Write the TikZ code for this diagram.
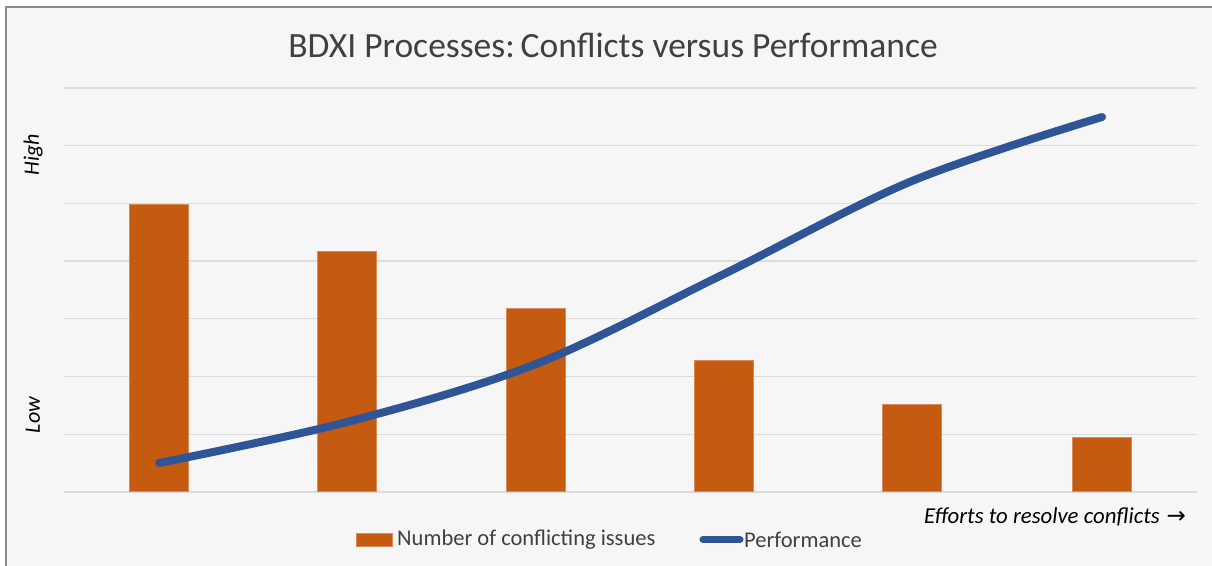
\documentclass[tikz,border=0pt]{standalone}
\usepackage{fontspec}
\setmainfont{Carlito}
\newfontfamily\symfont{DejaVu Sans}
\definecolor{bgc}{HTML}{F6F6F6}
\definecolor{framec}{HTML}{8C8C8C}
\definecolor{gridc}{HTML}{DCDCDC}
\definecolor{barc}{HTML}{C55A11}
\definecolor{linec}{HTML}{2F5597}
\definecolor{txtc}{HTML}{404040}
\tikzset{
  gridline/.style={draw=gridc, line width=1.3pt},
  barbox/.style={fill=barc, draw=barc!70!white, line width=0.5pt},
  perfline/.style={draw=linec, line width=8pt, line cap=round},
  lbl/.style={inner sep=0pt, text=txtc, font=\fontsize{22.5}{26}\selectfont},
  axlbl/.style={inner sep=0pt, text=black, font=\fontsize{22}{26}\selectfont\itshape},
}
\begin{document}
\begin{tikzpicture}[x=1pt,y=-1pt]
\useasboundingbox (0,0) rectangle (1212,565);
\fill[white] (0,0) rectangle (1212,565);
\draw[framec, line width=1.2pt, fill=bgc] (6,7) rectangle (1220,575);
% grid
\foreach \yy in {88,145.7,203.4,261.1,318.8,376.5,434.2,492}
  \draw[gridline] (64,\yy) -- (1197,\yy);
% bars
\foreach \xl/\yt in {129/204,317/251,506/308,694/360,882/404,1072/437}
  \filldraw[barbox] (\xl,\yt) rectangle ++(59,491.3-\yt);
% performance
\draw[perfline] plot[smooth, tension=0.55] coordinates {(159,463) (347,422) (536,364) (724,274) (912,181) (1102,117)};
% title
\node[lbl, font=\fontsize{35.5}{40}\selectfont, anchor=center] (title) at (613,45) {BDXI Processes:\hspace{6pt}Conflicts versus Performance};
% axis labels
\node[axlbl, rotate=90] (high) at (33,155) {High};
\node[axlbl, rotate=90] (low) at (33,415) {Low};
\node[axlbl, anchor=west, font=\fontsize{22.8}{26}\selectfont\itshape] (xlab) at (924,517) {Efforts to resolve conflicts\hspace{0.3em}{\symfont\upshape\fontsize{23}{26}\selectfont →}};
% legend
\filldraw[barbox] (356,533) rectangle (392,546) coordinate (lgbar);
\node[lbl, anchor=west] (lgt1) at (397,539.5) {Number of conflicting issues};
\coordinate (lgl1) at (703,539.5);
\coordinate (lgl2) at (740,539.5);
\draw[perfline, line width=7pt] (lgl1) -- (lgl2);
\node[lbl, anchor=west] (lgt2) at (744,539.5) {Performance};
\end{tikzpicture}
\end{document}
